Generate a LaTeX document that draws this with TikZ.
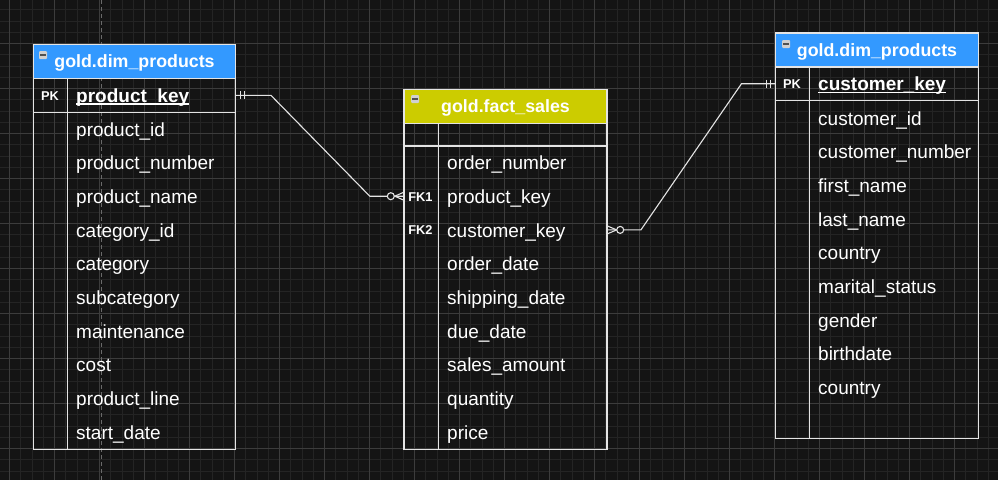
\documentclass[tikz,border=0pt]{standalone}
\usepackage{fontspec}
\setmainfont{Liberation Sans}
\usetikzlibrary{positioning}

\definecolor{canvasbg}{HTML}{141414}
\definecolor{gridminor}{HTML}{242424}
\definecolor{gridmajor}{HTML}{3C3C3C}
\definecolor{pagebreak}{HTML}{6A6A6A}
\definecolor{tableline}{HTML}{E4E4E4}
\definecolor{dimblue}{HTML}{3399FF}
\definecolor{factyellow}{HTML}{CCCC00}
\definecolor{iconfill}{HTML}{D0D0D0}
\definecolor{icondash}{HTML}{505050}

\tikzset{
	tableframe/.style={draw=tableline, line width=1.2pt},
	headbox/.style={tableframe, minimum height=34pt, inner sep=0pt},
	headtext/.style={text=white, font=\fontsize{17.8}{20}\selectfont\bfseries, anchor=base, inner sep=0pt},
	fieldtext/.style={text=white, font=\fontsize{19}{22}\selectfont, anchor=base west, inner sep=0pt},
	keytext/.style={fieldtext, font=\fontsize{19}{22}\selectfont\bfseries},
	tagtext/.style={text=white, font=\fontsize{12.8}{14}\selectfont\bfseries, anchor=base, inner sep=0pt},
	rowslot/.style={minimum height=33.7pt, inner sep=0pt},
	relation/.style={draw=tableline, line width=1.1pt},
	keyline/.style={draw=white, line width=1.6pt},
	collapse/.style={fill=iconfill, rounded corners=1pt, minimum size=8pt, inner sep=0pt},
}

\begin{document}
\begin{tikzpicture}[x=1pt,y=-1pt]

	\useasboundingbox (0,0) rectangle (998,480);
	\fill[canvasbg] (0,0) rectangle (998,480);

	% grid
	\begin{scope}
		\clip (0,0) rectangle (998,480);
		\foreach \k in {0,...,89} \draw[gridminor, line width=0.6pt] ({-1.95+11.25*\k},0) -- ++(0,480);
		\foreach \k in {0,...,43} \draw[gridminor, line width=0.6pt] (0,{-1.7+11.25*\k}) -- ++(998,0);
		\foreach \k in {0,...,22} \draw[gridmajor, line width=0.8pt] ({9.3+45*\k},0) -- ++(0,480);
		\foreach \k in {0,...,10} \draw[gridmajor, line width=0.8pt] (0,{43.3+45*\k}) -- ++(998,0);
		\draw[pagebreak, line width=0.8pt, dash pattern=on 4pt off 3pt] (101,0) -- (101,480);
	\end{scope}

	% gold.dim_products (left)
	\node[headbox, fill=dimblue, minimum width=202.4pt] (prodhead) at (134.5,61.3) {};
	\node[headtext] (prodtitle) at (134.5,67.6) {gold.dim\_products};
	\node[collapse] (prodicon) at (43,55) {};
	\draw[icondash, line width=1.4pt] ([xshift=-2.6pt]prodicon.center) -- ([xshift=2.6pt]prodicon.center);
	\draw[tableframe] (33.3,78.3) rectangle (235.7,449.3);
	\draw[tableframe] (67.7,78.3) -- (67.7,449.3);
	\draw[tableframe] (33.3,112.3) -- (235.7,112.3);
	\node[rowslot, minimum width=202.4pt] (prodpk) at (134.5,95.3) {};
	\node[tagtext] (prodpktag) at (50,100.2) {PK};
	\node[keytext] (prodkey) at (76,102) {product\_key};
	\draw[keyline] ([yshift=-2pt]prodkey.base west) -- ([yshift=-2pt]prodkey.base east);
	\foreach \f [count=\i from 0] in {product\_id, product\_number, product\_name, category\_id,
		category, subcategory, maintenance, cost, product\_line, start\_date}
		\node[fieldtext] (prodrow\i) at (76,{136+33.7*\i}) {\f};

	% gold.fact_sales (middle)
	\node[headbox, fill=factyellow, minimum width=203pt] (facthead) at (505.5,106.3) {};
	\node[headtext] (facttitle) at (505.5,112.6) {gold.fact\_sales};
	\node[collapse] (facticon) at (415,99) {};
	\draw[icondash, line width=1.4pt] ([xshift=-2.6pt]facticon.center) -- ([xshift=2.6pt]facticon.center);
	\draw[tableframe] (404,123.3) rectangle (607,449.3);
	\draw[tableframe] (438.3,123.3) -- (438.3,449.3);
	\draw[tableframe] (404,146) -- (607,146);
	\node[rowslot, minimum width=203pt] (factfk1) at (505.5,196.2) {};
	\node[rowslot, minimum width=203pt] (factfk2) at (505.5,229.9) {};
	\node[tagtext] (factfk1tag) at (420.5,201.2) {FK1};
	\node[tagtext] (factfk2tag) at (420.5,234.9) {FK2};
	\foreach \f [count=\i from 0] in {order\_number, product\_key, customer\_key, order\_date,
		shipping\_date, due\_date, sales\_amount, quantity, price}
		\node[fieldtext] (factrow\i) at (447,{169.7+33.7*\i}) {\f};

	% gold.dim_products (right)
	\node[headbox, fill=dimblue, minimum width=202.6pt] (custhead) at (877,50) {};
	\node[headtext] (custtitle) at (877,56.3) {gold.dim\_products};
	\node[collapse] (custicon) at (786,44) {};
	\draw[icondash, line width=1.4pt] ([xshift=-2.6pt]custicon.center) -- ([xshift=2.6pt]custicon.center);
	\draw[tableframe] (775.7,66.7) rectangle (978.3,438.3);
	\draw[tableframe] (809.3,66.7) -- (809.3,438.3);
	\draw[tableframe] (775.7,100.7) -- (978.3,100.7);
	\node[rowslot, minimum width=202.6pt] (custpk) at (877,83.7) {};
	\node[tagtext] (custpktag) at (792,88.6) {PK};
	\node[keytext] (custkey) at (818,90.5) {customer\_key};
	\draw[keyline] ([yshift=-2pt]custkey.base west) -- ([yshift=-2pt]custkey.base east);
	\foreach \f [count=\i from 0] in {customer\_id, customer\_number, first\_name, last\_name,
		country, marital\_status, gender, birthdate, country}
		\node[fieldtext] (custrow\i) at (818,{125+33.7*\i}) {\f};

	% product_key: one to many
	\draw[relation] (prodpk.east) -- ++(35,0) -- ([xshift=-34pt]factfk1.west) -- (factfk1.west);
	\draw[relation] ([xshift=5pt,yshift=4pt]prodpk.east) -- ([xshift=5pt,yshift=-4pt]prodpk.east);
	\draw[relation] ([xshift=9pt,yshift=4pt]prodpk.east) -- ([xshift=9pt,yshift=-4pt]prodpk.east);
	\draw[relation] ([yshift=4pt]factfk1.west) -- ([xshift=-9pt]factfk1.west) -- ([yshift=-4pt]factfk1.west);
	\draw[relation, fill=canvasbg] ([xshift=-13pt]factfk1.west) circle[radius=3.5pt];

	% customer_key: many to one
	\draw[relation] (factfk2.east) -- ([xshift=33.7pt]factfk2.east) -- ([xshift=-34pt]custpk.west) -- (custpk.west);
	\draw[relation] ([yshift=4pt]factfk2.east) -- ([xshift=9.5pt]factfk2.east) -- ([yshift=-4pt]factfk2.east);
	\draw[relation, fill=canvasbg] ([xshift=13pt]factfk2.east) circle[radius=3.5pt];
	\draw[relation] ([xshift=-9pt,yshift=4pt]custpk.west) -- ([xshift=-9pt,yshift=-4pt]custpk.west);
	\draw[relation] ([xshift=-5pt,yshift=4pt]custpk.west) -- ([xshift=-5pt,yshift=-4pt]custpk.west);

\end{tikzpicture}
\end{document}
